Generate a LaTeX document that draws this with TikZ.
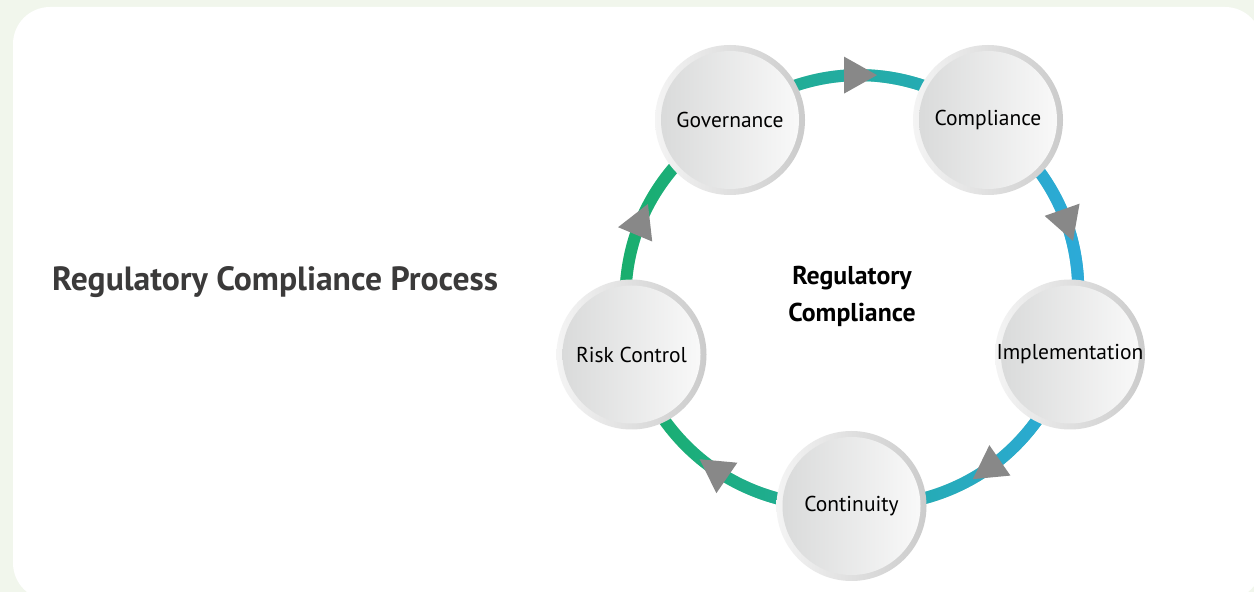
\documentclass[tikz,border=0pt]{standalone}
\usepackage{fontspec}
\setmainfont{PT Sans}
\usetikzlibrary{backgrounds,decorations.markings,fadings}
\definecolor{pagebg}{HTML}{F1F6EC}
\definecolor{titlegray}{HTML}{3B3A3A}
\definecolor{ringgreen}{HTML}{19AF6B}
\definecolor{ringblue}{HTML}{2DAADC}
\definecolor{arrowgray}{HTML}{888888}
\definecolor{rimlight}{HTML}{F4F4F4}
\definecolor{rimdark}{HTML}{CBCBCB}
\definecolor{facedark}{HTML}{D8D9D9}
\definecolor{facelight}{HTML}{FAFAFA}
\tikzfading[name=faderight, left color=transparent!100, right color=transparent!0]

\begin{document}
\begin{tikzpicture}[x=1pt, y=1pt,
  stage/.style={circle, minimum size=150pt, inner sep=0pt, left color=rimlight, right color=rimdark,
    path picture={\shade[left color=facedark, right color=facelight] (path picture bounding box.center) circle (69pt);},
    font=\fontsize{21.5}{25}\selectfont, text=black},
  link/.style 2 args={line width=12pt, draw=#1,
    postaction={draw=#2, path fading=faderight},
    postaction={decorate}},
  decoration={markings, mark=at position 0.5 with {\fill[arrowgray] (18pt,0pt) -- (-15pt,18.5pt) -- (-15pt,-18.5pt) -- cycle;}}
]
\useasboundingbox (0,0) rectangle (1254,592);

% stages of the cycle
\node[stage] (gov) at (730,472) {Governance};
\node[stage] (comp) at (988,472) {Compliance};
\node[stage] (impl) at (1070,237.5) {Implementation};
\node[stage] (cont) at (851.5,86) {Continuity};
\node[stage] (risk) at (631.5,237.5) {Risk Control};

\node[font=\fontsize{25.8}{37}\selectfont\bfseries, align=center] (hub) at (852,296) {Regulatory\\Compliance};
\node[font=\fontsize{33.6}{40}\selectfont\bfseries, text=titlegray, inner sep=0pt, anchor=base west] (title) at (52,301) {Regulatory Compliance Process};

\begin{scope}[on background layer]
\fill[pagebg] (0,0) rectangle (1254,592);
\fill[white, rounded corners=37pt] (13,-8) rectangle (1262,585);
% ring, clockwise
\draw[link={ringblue!23!ringgreen}{ringblue!80!ringgreen}] (gov.center) to[bend left=36.5] (comp.center);
\draw[link={ringblue!80!ringgreen}{ringblue}] (comp.center) to[bend left=33.6] (impl.center);
\draw[link={ringblue!50!ringgreen}{ringblue!98!ringgreen}] (impl.center) to[bend left=37.2] (cont.center);
\draw[link={ringgreen}{ringblue!50!ringgreen}] (cont.center) to[bend left=37.4] (risk.center);
\draw[link={ringgreen}{ringblue!23!ringgreen}] (risk.center) to[bend left=35.3] (gov.center);
\end{scope}
\end{tikzpicture}
\end{document}
